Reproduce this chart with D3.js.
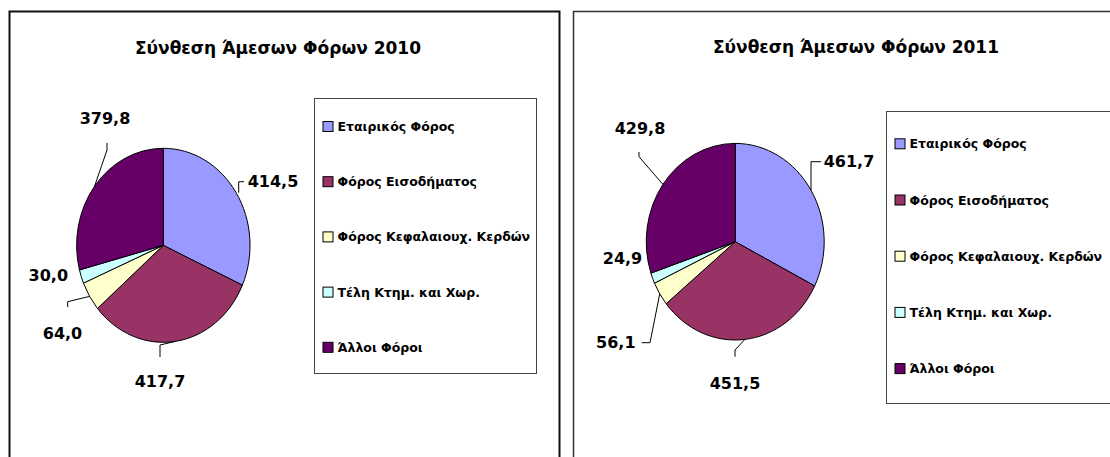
<!DOCTYPE html>
<html>
<head>
<meta charset="utf-8">
<script src="https://cdn.jsdelivr.net/npm/d3@7"></script>
<style>
  html, body { margin: 0; padding: 0; background: #fff; }
  svg { display: block; }
  text { font-family: "DejaVu Sans", "Noto Sans", sans-serif; font-weight: bold; fill: #000; }
</style>
</head>
<body>
<svg id="chart" width="1110" height="457"></svg>
<script>
// ---- data ----
const categories = ["Εταιρικός Φόρος", "Φόρος Εισοδήματος", "Φόρος Κεφαλαιουχ. Κερδών", "Τέλη Κτημ. και Χωρ.", "Άλλοι Φόροι"];
const values2010 = [414.5, 417.7, 64.0, 30.0, 379.8];
const values2011 = [461.7, 451.5, 56.1, 24.9, 429.8];
const titles = ["Σύνθεση Άμεσων Φόρων 2010", "Σύνθεση Άμεσων Φόρων 2011"];
const colors = ["#9999FF", "#993366", "#FFFFCC", "#CCFFFF", "#660066"];

// ---- layout (positions only) ----
const panels = [
  { values: values2010, title: titles[0],
    frame: { x: 9.5, y: 11.5, w: 550, h: 460, stroke: "#111", sw: 2 },
    titleX: 278, titleY: 48,
    cx: 163.3, cy: 245.3, rx: 86.7, ry: 97,
    legend: { x: 314.5, y: 98.5, w: 222, h: 275, rowY0: 126, rowStep: 55.2 },
    // label centre (absolute) and leader polyline: [edge] -> elbow points given as absolute
    labels: [
      { lx: 273, ly: 181, pts: [[238.7, 181.7], [244, 181.7]] , elbowX: 238.7 },
      { lx: 160, ly: 381.7, pts: [[160, 345], [160, 357]] },
      { lx: 62.5, ly: 333.3, pts: [[67.7, 301.7], [67.7, 307]] },
      { lx: 48.3, ly: 275, pts: null },
      { lx: 105, ly: 118, pts: [[107, 150], [107, 143]] }
    ]
  },
  { values: values2011, title: titles[1],
    frame: { x: 573.5, y: 11.5, w: 560, h: 460, stroke: "#333", sw: 1.5 },
    titleX: 856, titleY: 47,
    cx: 735.2, cy: 241.7, rx: 89, ry: 98.3,
    legend: { x: 886.5, y: 111.5, w: 240, h: 292, rowY0: 143.3, rowStep: 56.2 },
    labels: [
      { lx: 849, ly: 161.7, pts: [[811, 161.7], [821, 161.7]], elbowX: 811 },
      { lx: 735, ly: 383.3, pts: [[735, 350], [735, 356.7]] },
      { lx: 615.8, ly: 342.7, pts: [[650, 342.7], [641.7, 342.7]] },
      { lx: 622.5, ly: 258.3, pts: null },
      { lx: 640, ly: 128.3, pts: [[639, 156.7], [639, 152]] }
    ]
  }
];

const svg = d3.select("#chart");
const fmt = v => d3.format(".1f")(v).replace(".", ",");

panels.forEach(p => {
  const g = svg.append("g");
  // frame
  g.append("rect")
    .attr("x", p.frame.x).attr("y", p.frame.y)
    .attr("width", p.frame.w).attr("height", p.frame.h)
    .attr("fill", "#fff").attr("stroke", p.frame.stroke).attr("stroke-width", p.frame.sw);

  // title
  g.append("text")
    .attr("x", p.titleX).attr("y", p.titleY)
    .attr("text-anchor", "middle").attr("dominant-baseline", "central")
    .style("font-size", "17px")
    .text(p.title);

  // pie (unit radius, scaled to an ellipse)
  const pie = d3.pie().sort(null).value(d => d)
    .startAngle(0).endAngle(2 * Math.PI);
  const arcs = pie(p.values);
  const arc = d3.arc().innerRadius(0).outerRadius(1);
  const pg = g.append("g")
    .attr("transform", `translate(${p.cx},${p.cy}) scale(${p.rx},${p.ry})`);
  pg.selectAll("path").data(arcs).join("path")
    .attr("d", arc)
    .attr("fill", (d, i) => colors[i])
    .attr("stroke", "#000")
    .attr("stroke-width", 1)
    .attr("vector-effect", "non-scaling-stroke");

  // labels + leaders
  arcs.forEach((a, i) => {
    const L = p.labels[i];
    const mid = (a.startAngle + a.endAngle) / 2;
    const ex = p.cx + p.rx * Math.sin(mid);
    const ey = p.cy - p.ry * Math.cos(mid);
    if (L.pts) {
      let pts = [[ex, ey]];
      if (L.elbowX !== undefined) pts = [[L.elbowX, ey]];
      pts = pts.concat(L.pts);
      g.append("path")
        .attr("d", d3.line()(pts))
        .attr("fill", "none").attr("stroke", "#000").attr("stroke-width", 1);
    }
    g.append("text")
      .attr("x", L.lx).attr("y", L.ly)
      .attr("text-anchor", "middle").attr("dominant-baseline", "central")
      .style("font-size", "16px")
      .text(fmt(p.values[i]));
  });

  // legend
  const lg = p.legend;
  g.append("rect")
    .attr("x", lg.x).attr("y", lg.y).attr("width", lg.w).attr("height", lg.h)
    .attr("fill", "#fff").attr("stroke", "#444").attr("stroke-width", 1);
  const rows = g.selectAll("g.leg").data(categories).join("g")
    .attr("class", "leg")
    .attr("transform", (d, i) => `translate(${lg.x + 8},${lg.rowY0 + i * lg.rowStep})`);
  rows.append("rect")
    .attr("x", 0.5).attr("y", -4.5).attr("width", 10).attr("height", 10)
    .attr("fill", (d, i) => colors[i]).attr("stroke", "#000").attr("stroke-width", 1);
  rows.append("text")
    .attr("x", 15).attr("y", 0.5)
    .attr("dominant-baseline", "central")
    .style("font-size", "12.5px")
    .text(d => d);
});
</script>
</body>
</html>
